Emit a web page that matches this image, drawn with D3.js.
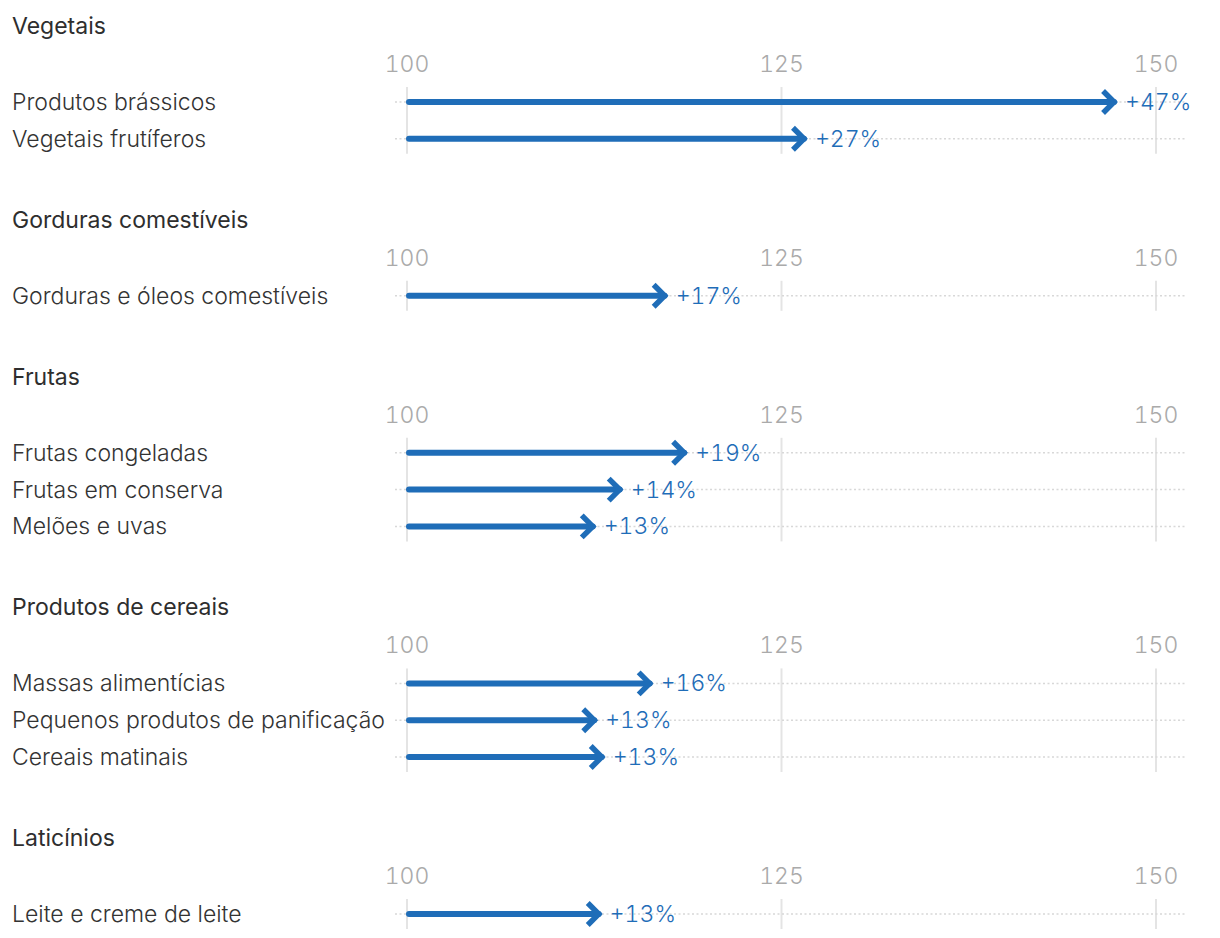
<!DOCTYPE html>
<html>
<head>
<meta charset="utf-8">
<script src="https://cdn.jsdelivr.net/npm/d3@7"></script>
<style>
  html, body { margin: 0; padding: 0; background: #fff; }
  svg { display: block; font-family: Inter, "Noto Sans", sans-serif; }
  .num { font-feature-settings: "tnum" 1; font-variant-numeric: tabular-nums; }
</style>
</head>
<body>
<svg id="chart" width="1220" height="938"></svg>
<script>
// ---- data ----
const groups = ["Vegetais", "Gorduras comestíveis", "Frutas", "Produtos de cereais", "Laticínios"];
const categories = [
  ["Produtos brássicos", "Vegetais frutíferos"],
  ["Gorduras e óleos comestíveis"],
  ["Frutas congeladas", "Frutas em conserva", "Melões e uvas"],
  ["Massas alimentícias", "Pequenos produtos de panificação", "Cereais matinais"],
  ["Leite e creme de leite"]
];
const values = [
  [147.4, 126.7],
  [117.4],
  [118.7, 114.4, 112.6],
  [116.4, 112.7, 113.2],
  [113.0]
];
const tickValues = [100, 125, 150];
const baseValue = 100;

// ---- layout ----
const svg = d3.select("#chart");
const x = d3.scaleLinear().domain([100, 150]).range([407, 1156]);
const blue = "#1f6db8";
const rowStep = 36.8;
const titleToTick = 38, tickToRow = 38, groupGap = 81;
const fs = 23;

let y = 26;
groups.forEach((g, gi) => {
  const cats = categories[gi];
  const vals = values[gi];
  const titleY = y;
  const tickY = titleY + titleToTick;
  const firstRow = tickY + tickToRow;
  const rowY = d3.scaleLinear().domain([0, 1]).range([firstRow, firstRow + rowStep]);
  const lastRow = rowY(cats.length - 1);
  const G = svg.append("g");

  G.append("text").attr("x", 12).attr("y", titleY).attr("dy", "0.35em")
    .attr("font-size", fs).attr("font-weight", 390).attr("fill", "#2e2e2e").text(g);

  // tick labels
  G.selectAll(".tl").data(tickValues).join("text").attr("class", "num")
    .attr("x", d => x(d)).attr("y", tickY).attr("dy", "0.35em")
    .attr("text-anchor", "middle").attr("font-size", fs).attr("font-weight", 300)
    .attr("fill", "#aaa").text(d => d);

  // vertical gridlines
  G.selectAll(".vg").data(tickValues).join("line")
    .attr("x1", d => x(d)).attr("x2", d => x(d))
    .attr("y1", firstRow - 15).attr("y2", lastRow + 15)
    .attr("stroke", "#e4e4e4").attr("stroke-width", 2);

  const rows = cats.map((c, i) => ({ c, v: vals[i], y: rowY(i) }));

  // dotted row lines
  G.selectAll(".hg").data(rows).join("line")
    .attr("x1", x(baseValue) - 12).attr("x2", 1187)
    .attr("y1", d => d.y).attr("y2", d => d.y)
    .attr("stroke", "#d8d8d8").attr("stroke-width", 1.5).attr("stroke-dasharray", "2,2.5");

  // row labels
  G.selectAll(".rl").data(rows).join("text")
    .attr("x", 12).attr("y", d => d.y).attr("dy", "0.35em")
    .attr("font-size", fs).attr("font-weight", 300).attr("fill", "#333").text(d => d.c);

  // arrow shafts
  G.selectAll(".sh").data(rows).join("line")
    .attr("x1", x(baseValue) + 2).attr("x2", d => x(d.v) - 3)
    .attr("y1", d => d.y).attr("y2", d => d.y)
    .attr("stroke", blue).attr("stroke-width", 6).attr("stroke-linecap", "round");

  // arrow heads
  G.selectAll(".hd").data(rows).join("path")
    .attr("d", d => {
      const tx = x(d.v) - 3, ty = d.y;
      return `M${tx - 11},${ty - 11} L${tx},${ty} L${tx - 11},${ty + 11}`;
    })
    .attr("fill", "none").attr("stroke", blue).attr("stroke-width", 5.5)
    .attr("stroke-linecap", "butt").attr("stroke-linejoin", "miter");

  // value labels
  G.selectAll(".vl").data(rows).join("text").attr("class", "num")
    .attr("x", d => x(d.v) + 8).attr("y", d => d.y).attr("dy", "0.35em")
    .attr("font-size", fs).attr("font-weight", 300).attr("fill", blue)
    .text(d => "+" + Math.round(d.v - baseValue) + "%");

  y = lastRow + groupGap;
});
</script>
</body>
</html>
